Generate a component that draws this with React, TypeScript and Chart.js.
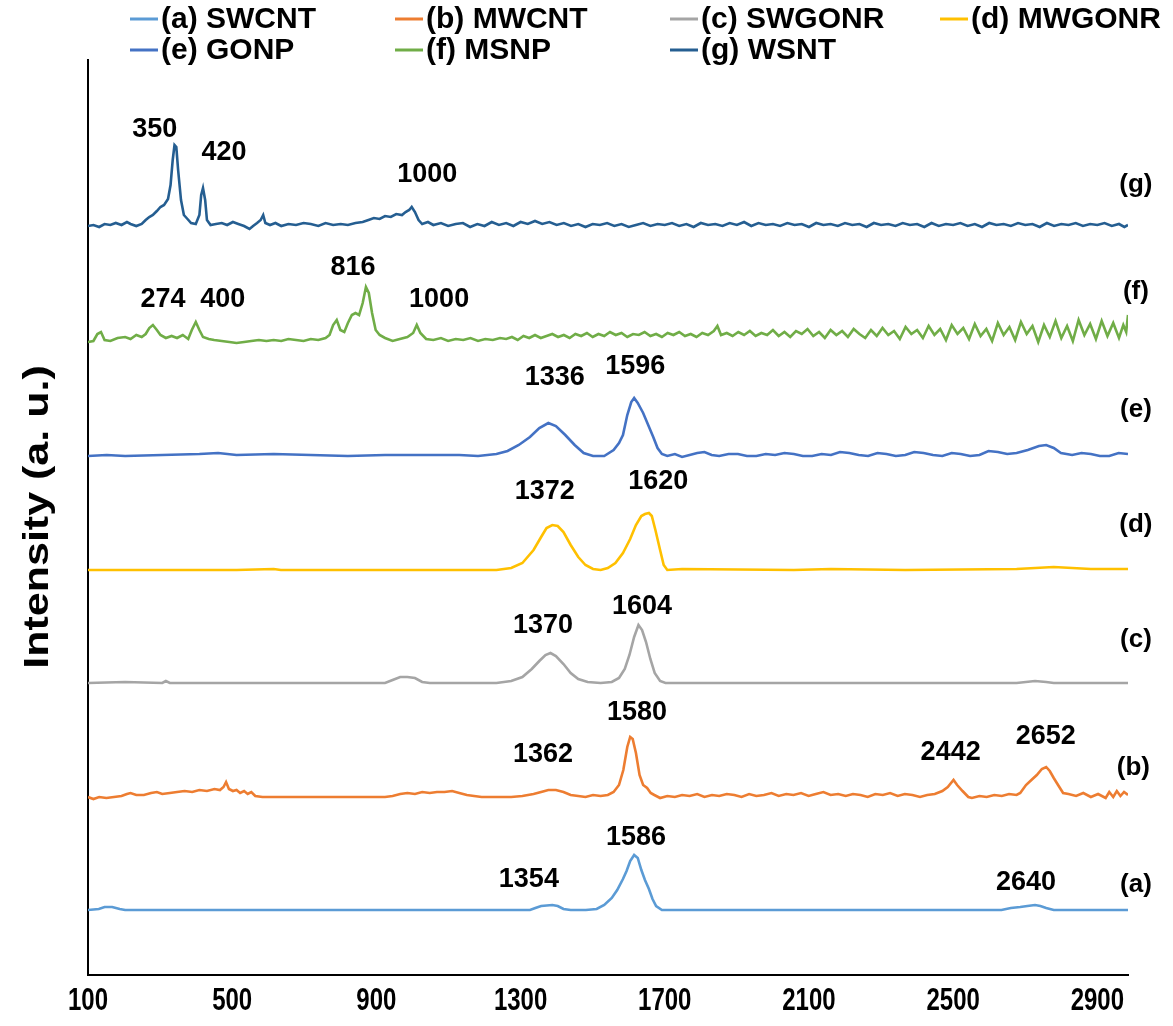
import { useEffect, useRef } from "react";
import { Chart, registerables } from "chart.js";
Chart.register(...registerables);

const X_MIN = 100;
const X_MAX = 2985;
const X_TICKS = [100, 500, 900, 1300, 1700, 2100, 2500, 2900];
const SERIES_NAMES = ["(a) SWCNT", "(b) MWCNT", "(c) SWGONR", "(d) MWGONR", "(e) GONP", "(f) MSNP", "(g) WSNT"];
const SERIES_TAGS = ["(a)", "(b)", "(c)", "(d)", "(e)", "(f)", "(g)"];
const SERIES_COLORS = ["#5B9BD5", "#ED7D31", "#A5A5A5", "#FFC000", "#4472C4", "#70AD47", "#255E91"];

// Raman spectra: [wavenumber (cm-1), offset intensity (a.u.)]
const SWCNT: [number, number][] = [
  [100, 65], [130, 66], [146, 68], [167, 68], [188, 66], [203, 65], [409, 65], [718, 65], [1027, 65], [1285, 65],
  [1326, 65], [1341, 67], [1357, 69], [1388, 70], [1403, 69], [1419, 66], [1439, 65], [1481, 65], [1511, 66],
  [1532, 70], [1553, 77], [1568, 85], [1584, 96], [1594, 104], [1604, 114], [1615, 120], [1625, 117], [1635, 105],
  [1645, 95], [1656, 86], [1666, 76], [1676, 69], [1692, 65], [1748, 65], [2057, 65], [2366, 65], [2634, 65],
  [2660, 67], [2686, 68], [2706, 69], [2727, 70], [2742, 69], [2758, 67], [2779, 65], [2985, 65],
];
const MWCNT: [number, number][] = [
  [100, 178], [115, 176], [131, 178], [151, 177], [172, 178], [193, 179], [208, 181], [218, 182], [234, 180], [255, 180],
  [275, 182], [291, 183], [306, 181], [327, 182], [347, 183], [368, 184], [389, 183], [409, 185], [430, 184], [451, 186],
  [466, 185], [476, 188], [483, 193], [491, 186], [502, 184], [512, 185], [522, 182], [533, 184], [543, 181], [553, 183],
  [564, 179], [584, 178], [666, 178], [770, 178], [873, 178], [924, 178], [945, 179], [966, 181], [986, 182], [1007, 181],
  [1027, 183], [1048, 182], [1068, 183], [1089, 183], [1110, 184], [1130, 182], [1151, 180], [1171, 179], [1192, 178],
  [1233, 178], [1274, 178], [1305, 179], [1336, 181], [1357, 183], [1377, 185], [1398, 185], [1419, 183], [1439, 180],
  [1460, 179], [1480, 178], [1501, 180], [1522, 179], [1542, 180], [1558, 183], [1573, 190], [1585, 205], [1596, 228],
  [1604, 238], [1611, 236], [1620, 222], [1630, 200], [1640, 190], [1651, 187], [1661, 182], [1671, 180], [1687, 177],
  [1707, 179], [1728, 178], [1748, 180], [1769, 179], [1790, 181], [1810, 178], [1831, 180], [1851, 179], [1872, 181],
  [1893, 180], [1913, 178], [1934, 181], [1954, 179], [1975, 180], [1996, 182], [2016, 179], [2037, 181], [2057, 180],
  [2078, 182], [2099, 179], [2119, 181], [2140, 183], [2160, 180], [2181, 181], [2202, 179], [2222, 181], [2243, 180],
  [2263, 178], [2284, 181], [2305, 180], [2325, 182], [2346, 179], [2366, 181], [2387, 180], [2408, 178], [2428, 180],
  [2449, 181], [2470, 184], [2485, 188], [2501, 195], [2511, 190], [2526, 184], [2542, 178], [2552, 177], [2573, 179],
  [2593, 178], [2614, 180], [2635, 179], [2655, 181], [2676, 180], [2686, 182], [2702, 190], [2717, 195], [2732, 200],
  [2746, 206], [2758, 208], [2768, 204], [2779, 197], [2791, 190], [2805, 182], [2820, 181], [2841, 179], [2861, 182],
  [2882, 178], [2902, 181], [2923, 177], [2933, 183], [2944, 178], [2954, 184], [2964, 179], [2974, 183], [2985, 180],
];
const SWGONR: [number, number][] = [
  [100, 292], [203, 293], [306, 292], [316, 294], [327, 292], [512, 292], [718, 292], [924, 292], [945, 295], [966, 298],
  [986, 298], [1007, 297], [1027, 293], [1048, 292], [1233, 292], [1274, 294], [1305, 298], [1331, 306], [1352, 314],
  [1369, 320], [1383, 322], [1398, 319], [1419, 311], [1439, 302], [1460, 296], [1486, 293], [1522, 292], [1553, 293],
  [1573, 297], [1589, 306], [1602, 320], [1615, 338], [1627, 350], [1637, 345], [1648, 333], [1660, 316], [1672, 302],
  [1687, 294], [1702, 292], [1748, 292], [2058, 292], [2367, 292], [2676, 292], [2727, 294], [2758, 293], [2779, 292],
  [2985, 292],
];
const MWGONR: [number, number][] = [
  [100, 405], [306, 405], [512, 405], [615, 406], [635, 405], [924, 405], [1130, 405], [1233, 405], [1274, 407],
  [1305, 412], [1336, 425], [1357, 438], [1372, 447], [1388, 450], [1403, 449], [1419, 443], [1439, 430], [1460, 418],
  [1480, 410], [1501, 406], [1522, 405], [1542, 407], [1563, 412], [1584, 422], [1604, 436], [1620, 450], [1635, 459],
  [1645, 461], [1656, 462], [1664, 459], [1674, 445], [1687, 425], [1697, 410], [1707, 405], [1748, 406], [2058, 405],
  [2161, 406], [2367, 405], [2676, 406], [2779, 408], [2882, 406], [2985, 406],
];
const GONP: [number, number][] = [
  [100, 519], [152, 520], [203, 519], [306, 520], [409, 521], [461, 522], [512, 520], [615, 521], [718, 520], [821, 519],
  [924, 520], [1027, 520], [1130, 520], [1182, 519], [1233, 521], [1264, 524], [1295, 530], [1326, 538], [1352, 547],
  [1377, 552], [1398, 549], [1424, 540], [1450, 530], [1475, 522], [1501, 519], [1532, 519], [1558, 525], [1573, 532],
  [1584, 540], [1596, 560], [1607, 573], [1615, 577], [1625, 572], [1640, 562], [1654, 550], [1668, 538], [1680, 527],
  [1692, 521], [1707, 519], [1728, 521], [1748, 518], [1769, 520], [1790, 522], [1810, 523], [1830, 520], [1851, 519],
  [1877, 521], [1903, 521], [1928, 519], [1954, 519], [1980, 521], [2006, 520], [2032, 522], [2058, 521], [2083, 519],
  [2109, 519], [2135, 521], [2161, 520], [2186, 523], [2212, 522], [2238, 520], [2264, 519], [2290, 522], [2315, 521],
  [2341, 519], [2367, 520], [2392, 523], [2418, 522], [2444, 520], [2470, 519], [2496, 522], [2521, 521], [2547, 519],
  [2573, 520], [2598, 524], [2624, 523], [2650, 521], [2676, 522], [2707, 525], [2738, 529], [2758, 530], [2779, 527],
  [2799, 522], [2830, 520], [2856, 522], [2882, 521], [2907, 519], [2933, 519], [2959, 522], [2985, 521],
];
const MSNP: [number, number][] = [
  [100, 633], [115, 634], [126, 641], [136, 643], [146, 635], [162, 634], [182, 637], [203, 638], [218, 636], [234, 640],
  [249, 638], [260, 641], [270, 647], [280, 650], [291, 645], [301, 640], [316, 637], [332, 639], [347, 637], [363, 640],
  [378, 636], [388, 645], [399, 653], [409, 645], [419, 638], [435, 636], [450, 635], [471, 634], [492, 633], [512, 632],
  [533, 633], [553, 634], [574, 635], [595, 634], [615, 635], [636, 634], [656, 636], [677, 635], [698, 634], [718, 636],
  [739, 635], [759, 637], [770, 640], [780, 650], [790, 655], [800, 645], [811, 643], [821, 652], [832, 660], [842, 662],
  [852, 660], [862, 672], [871, 688], [879, 682], [888, 662], [898, 645], [909, 640], [924, 637], [945, 634], [965, 636],
  [986, 638], [1002, 642], [1012, 650], [1022, 642], [1038, 636], [1058, 635], [1079, 637], [1099, 634], [1120, 636],
  [1141, 635], [1161, 637], [1182, 634], [1202, 636], [1223, 635], [1243, 637], [1260, 636], [1276, 638], [1292, 635],
  [1308, 639], [1324, 637], [1340, 640], [1356, 637], [1372, 639], [1388, 641], [1404, 638], [1420, 640], [1436, 637],
  [1452, 641], [1468, 639], [1484, 642], [1500, 638], [1516, 641], [1532, 639], [1548, 643], [1564, 640], [1580, 642],
  [1596, 638], [1612, 641], [1628, 640], [1644, 643], [1660, 639], [1676, 641], [1692, 638], [1708, 642], [1724, 640],
  [1740, 643], [1756, 639], [1772, 641], [1788, 638], [1804, 642], [1820, 640], [1836, 644], [1846, 649], [1856, 640],
  [1872, 642], [1888, 639], [1904, 643], [1920, 640], [1936, 644], [1952, 639], [1968, 642], [1984, 640], [2000, 645],
  [2016, 639], [2032, 643], [2048, 638], [2064, 644], [2080, 641], [2096, 646], [2112, 639], [2128, 643], [2144, 637],
  [2160, 645], [2176, 640], [2192, 644], [2208, 638], [2224, 646], [2240, 641], [2256, 637], [2272, 645], [2288, 639],
  [2304, 647], [2320, 640], [2336, 644], [2352, 636], [2368, 648], [2384, 641], [2400, 645], [2416, 637], [2432, 649],
  [2448, 640], [2464, 646], [2480, 635], [2496, 650], [2512, 641], [2528, 647], [2544, 636], [2560, 651], [2576, 639],
  [2592, 646], [2608, 634], [2624, 652], [2640, 640], [2656, 648], [2672, 635], [2688, 653], [2704, 641], [2720, 649],
  [2736, 633], [2752, 650], [2768, 638], [2784, 654], [2800, 637], [2816, 649], [2832, 634], [2848, 655], [2864, 640],
  [2880, 651], [2896, 636], [2912, 654], [2928, 639], [2944, 652], [2960, 637], [2972, 650], [2980, 643], [2985, 660],
];
const WSNT: [number, number][] = [
  [100, 749], [115, 750], [131, 748], [146, 751], [162, 750], [177, 752], [193, 750], [208, 753], [218, 751], [234, 749],
  [249, 751], [260, 755], [270, 758], [280, 760], [291, 764], [301, 768], [311, 770], [322, 776], [329, 790], [335, 815],
  [340, 830], [345, 828], [350, 805], [358, 775], [366, 760], [376, 756], [386, 752], [399, 751], [409, 760], [414, 780],
  [419, 787], [425, 775], [430, 755], [440, 750], [455, 751], [471, 752], [486, 750], [502, 753], [517, 751], [533, 749],
  [548, 746], [558, 749], [569, 752], [579, 755], [586, 760], [592, 752], [605, 750], [620, 752], [636, 749], [656, 751],
  [677, 750], [698, 752], [718, 751], [739, 749], [759, 752], [780, 750], [801, 751], [821, 750], [842, 752], [862, 753],
  [878, 755], [893, 757], [909, 756], [924, 759], [940, 758], [955, 761], [971, 760], [981, 763], [991, 765], [998, 768],
  [1007, 763], [1017, 755], [1027, 751], [1043, 753], [1058, 750], [1079, 752], [1099, 749], [1120, 751], [1140, 752],
  [1160, 748], [1180, 751], [1200, 749], [1220, 753], [1240, 750], [1260, 752], [1280, 749], [1300, 753], [1320, 751],
  [1340, 754], [1360, 751], [1380, 753], [1400, 750], [1420, 752], [1440, 749], [1460, 751], [1480, 748], [1500, 751],
  [1520, 750], [1540, 752], [1560, 749], [1580, 751], [1600, 748], [1620, 750], [1640, 752], [1660, 749], [1680, 751],
  [1700, 750], [1720, 752], [1740, 749], [1760, 751], [1780, 748], [1800, 752], [1820, 750], [1840, 751], [1860, 749],
  [1880, 752], [1900, 750], [1920, 753], [1940, 749], [1960, 752], [1980, 750], [2000, 751], [2020, 749], [2040, 752],
  [2060, 750], [2080, 751], [2100, 748], [2120, 752], [2140, 750], [2160, 751], [2180, 749], [2200, 752], [2220, 750],
  [2240, 751], [2260, 748], [2280, 752], [2300, 750], [2320, 751], [2340, 749], [2360, 752], [2380, 750], [2400, 751],
  [2420, 748], [2440, 752], [2460, 749], [2480, 751], [2500, 750], [2520, 752], [2540, 749], [2560, 751], [2580, 748],
  [2600, 752], [2620, 750], [2640, 751], [2660, 749], [2680, 752], [2700, 750], [2720, 751], [2740, 748], [2760, 752],
  [2780, 749], [2800, 751], [2820, 750], [2840, 752], [2860, 749], [2880, 751], [2900, 750], [2920, 752], [2940, 749],
  [2960, 751], [2975, 748], [2985, 750],
];
const SERIES = [SWCNT, MWCNT, SWGONR, MWGONR, GONP, MSNP, WSNT];

// Peak annotations: text, wavenumber, intensity
const PEAK_TEXT = ["350", "420", "1000", "274", "400", "816", "1000", "1336", "1596", "1372", "1620", "1370", "1604",
  "1580", "1362", "2442", "2652", "1586", "1354", "2640"];
const PEAK_X = [285, 477, 1041, 308, 474, 835, 1074, 1395, 1618, 1367, 1682, 1362, 1637, 1623, 1362, 2493, 2757, 1620, 1323, 2702];
const PEAK_Y = [845, 822, 800, 675, 675, 707, 675, 597, 608, 483, 493, 349, 368, 262, 220, 222, 238, 137, 95, 92];
const TAG_X = [3007, 3000, 3007, 3007, 3007, 3007, 3007];
const TAG_Y = [90, 207, 335, 450, 565, 683, 790];

const BOLD = "'Liberation Sans', Arial, sans-serif";

const decor = {
  id: "decor",
  afterDraw(chart: any) {
    const { ctx, scales } = chart;
    const xs = scales.x, ys = scales.y;
    ctx.save();
    ctx.fillStyle = "#000";
    ctx.textAlign = "center";
    ctx.textBaseline = "middle";
    // x tick labels (condensed)
    ctx.font = `bold 32px ${BOLD}`;
    xs.ticks.forEach((t: any) => {
      ctx.save();
      ctx.translate(xs.getPixelForValue(t.value), 1001);
      ctx.scale(0.75, 1);
      ctx.fillText(String(t.value), 0, 0);
      ctx.restore();
    });
    ctx.font = `bold 27px ${BOLD}`;
    PEAK_TEXT.forEach((t, i) => {
      ctx.fillText(t, xs.getPixelForValue(PEAK_X[i]), ys.getPixelForValue(PEAK_Y[i]));
    });
    ctx.font = `bold 26px ${BOLD}`;
    SERIES_TAGS.forEach((t, i) => {
      ctx.fillText(t, xs.getPixelForValue(TAG_X[i]), ys.getPixelForValue(TAG_Y[i]));
    });
    // y title
    ctx.save();
    ctx.translate(38, 517);
    ctx.rotate(-Math.PI / 2);
    ctx.scale(1, 0.82);
    ctx.font = `bold 43px ${BOLD}`;
    ctx.fillText("Intensity (a. u.)", 0, 0);
    ctx.restore();
    // legend
    const cols = [130, 395, 670, 940];
    const rows = [19, 50];
    ctx.textAlign = "left";
    ctx.font = `bold 30px ${BOLD}`;
    SERIES_NAMES.forEach((name, i) => {
      const r = i < 4 ? 0 : 1;
      const c = i < 4 ? i : i - 4;
      const x = cols[c], y = rows[r];
      ctx.strokeStyle = SERIES_COLORS[i];
      ctx.lineWidth = 3;
      ctx.beginPath();
      ctx.moveTo(x, y);
      ctx.lineTo(x + 28, y);
      ctx.stroke();
      ctx.fillText(name, x + 31, y + 1);
    });
    ctx.restore();
  },
};

export default function App() {
  const ref = useRef<HTMLCanvasElement | null>(null);
  useEffect(() => {
    document.body.style.margin = "0";
    const canvas = ref.current!;
    const chart = new Chart(canvas, {
      type: "line",
      data: {
        datasets: SERIES.map((s, i) => ({
          label: SERIES_NAMES[i],
          data: s.map(([x, y]) => ({ x, y })),
          borderColor: SERIES_COLORS[i],
          backgroundColor: SERIES_COLORS[i],
          borderWidth: 2.6,
          pointRadius: 0,
          tension: 0,
          fill: false,
        })),
      },
      options: {
        responsive: false,
        animation: false,
        devicePixelRatio: 1,
        layout: { padding: { top: 60, right: 45, left: 0, bottom: 0 } },
        plugins: { legend: { display: false }, tooltip: { enabled: false } },
        scales: {
          x: {
            type: "linear",
            min: X_MIN,
            max: X_MAX,
            grid: { display: false, drawTicks: false },
            border: { display: true, color: "#000", width: 2 },
            afterBuildTicks: (s: any) => { s.ticks = X_TICKS.map((v) => ({ value: v })); },
            afterFit: (s: any) => { s.height = 51; },
            ticks: { display: false },
          },
          y: {
            type: "linear",
            min: 0,
            max: 915,
            grid: { display: false, drawTicks: false },
            border: { display: true, color: "#000", width: 2 },
            ticks: { display: false },
            afterFit: (s: any) => { s.width = 88; },
          },
        },
      },
      plugins: [decor],
    });
    return () => chart.destroy();
  }, []);
  return (
    <div style={{ width: 1173, height: 1026 }}>
      <canvas ref={ref} width={1173} height={1026} />
    </div>
  );
}
